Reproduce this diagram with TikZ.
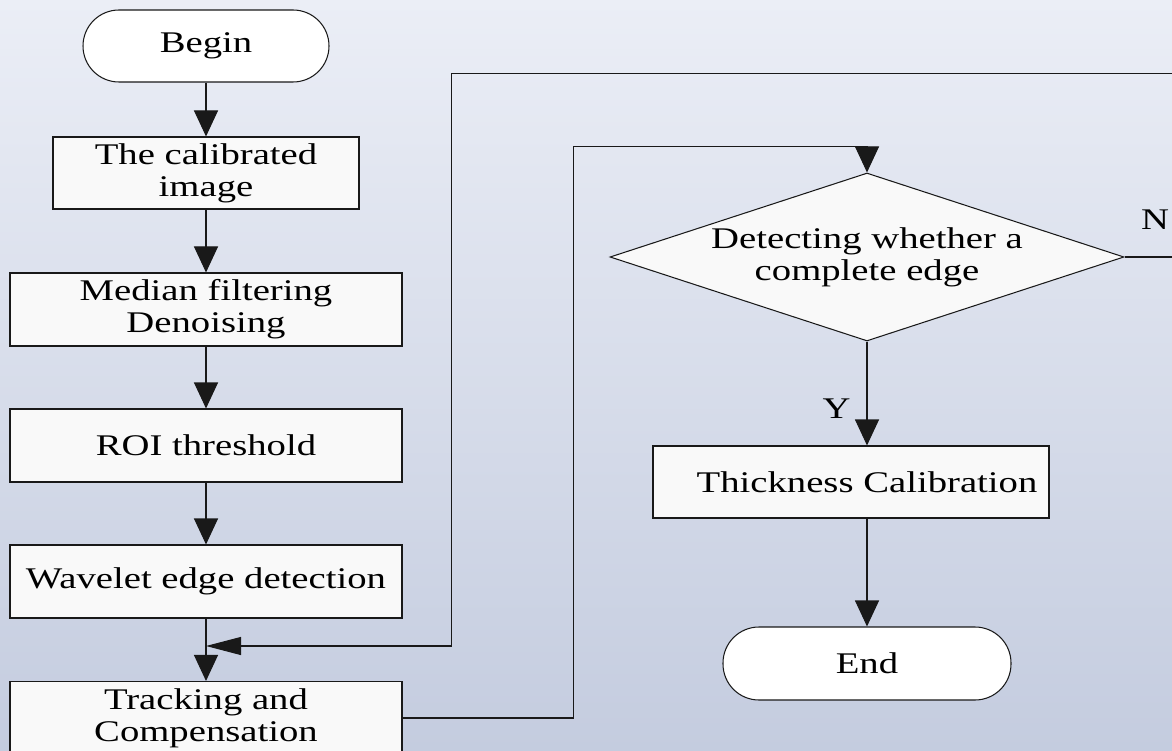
\documentclass[tikz,border=0pt]{standalone}
\usepackage{fontspec}
\setmainfont[FakeStretch=1.29]{Liberation Serif}
\usetikzlibrary{arrows.meta,shapes.geometric}
\definecolor{bgtop}{RGB}{235,238,246}
\definecolor{bgbot}{RGB}{196,204,223}
\definecolor{boxfill}{RGB}{249,249,249}
\definecolor{ink}{RGB}{25,25,25}
\begin{document}
\begin{tikzpicture}[x=1pt,y=-1pt,
  every node/.style={font=\fontsize{30}{32}\selectfont, inner sep=0pt, align=center, text=black},
  conn/.style={line width=1.05pt, draw=ink},
  box/.style={rectangle, draw=ink, line width=1.05pt, fill=boxfill},
  term/.style={rectangle, draw=ink, line width=1.05pt, fill=white, rounded corners=36pt},
  varrow/.style={conn, -{Triangle[length=26pt,width=24pt]}},
  harrow/.style={conn, -{Triangle[length=35pt,width=18pt]}}]
\shade[top color=bgtop, bottom color=bgbot] (0,0) rectangle (1172,751);
\useasboundingbox (0,0) rectangle (1172,751);
\clip (0,0) rectangle (1172,751);

% left column
\node[term, minimum width=246pt, minimum height=72pt] (begin) at (206,46) {Begin};
\node[box, minimum width=306pt, minimum height=72pt] (calib) at (206,173) {The calibrated\\image};
\node[box, minimum width=392pt, minimum height=73pt] (median) at (206,309.5) {Median filtering\\Denoising};
\node[box, minimum width=392pt, minimum height=73pt] (roi) at (206,445.5) {ROI threshold};
\node[box, minimum width=392pt, minimum height=73pt] (wave) at (206,581.5) {Wavelet edge detection};
\node[box, minimum width=392pt, minimum height=73pt] (track) at (206,718) {Tracking and\\Compensation};

% right column
\node[diamond, aspect=3.06, draw=ink, line width=1.05pt, fill=boxfill, minimum width=514pt, minimum height=168pt] (dec) at (867,257) {Detecting whether a\\complete edge};
\node[box, minimum width=396pt, minimum height=72pt] (thick) at (851,482) {};
\node (thicktxt) at (867,482) {Thickness Calibration};
\node[term, minimum width=288pt, minimum height=73pt] (end) at (867,663.5) {End};

\node (N) at (1155,219.5) {N};
\node (Y) at (836.5,409) {Y};

% coordinates of bends
\coordinate (j1) at (573.5,146.5);
\coordinate (rE) at (1195,257);
\coordinate (tL) at (451.5,73.5);
\coordinate (mj) at (206,646);

% connectors
\draw[varrow] (begin.south) -- (calib.north);
\draw[varrow] (calib.south) -- (median.north);
\draw[varrow] (median.south) -- (roi.north);
\draw[varrow] (roi.south) -- (wave.north);
\draw[varrow] (wave.south) -- (track.north);
\draw[varrow] (track.east) -| (j1) -| (dec.north);
\draw[harrow] (dec.east) -- (rE) |- (tL) |- (mj);
\draw[varrow] (dec.south) -- (dec.south |- thick.north);
\draw[varrow] (end.north |- thick.south) -- (end.north);
\end{tikzpicture}
\end{document}
